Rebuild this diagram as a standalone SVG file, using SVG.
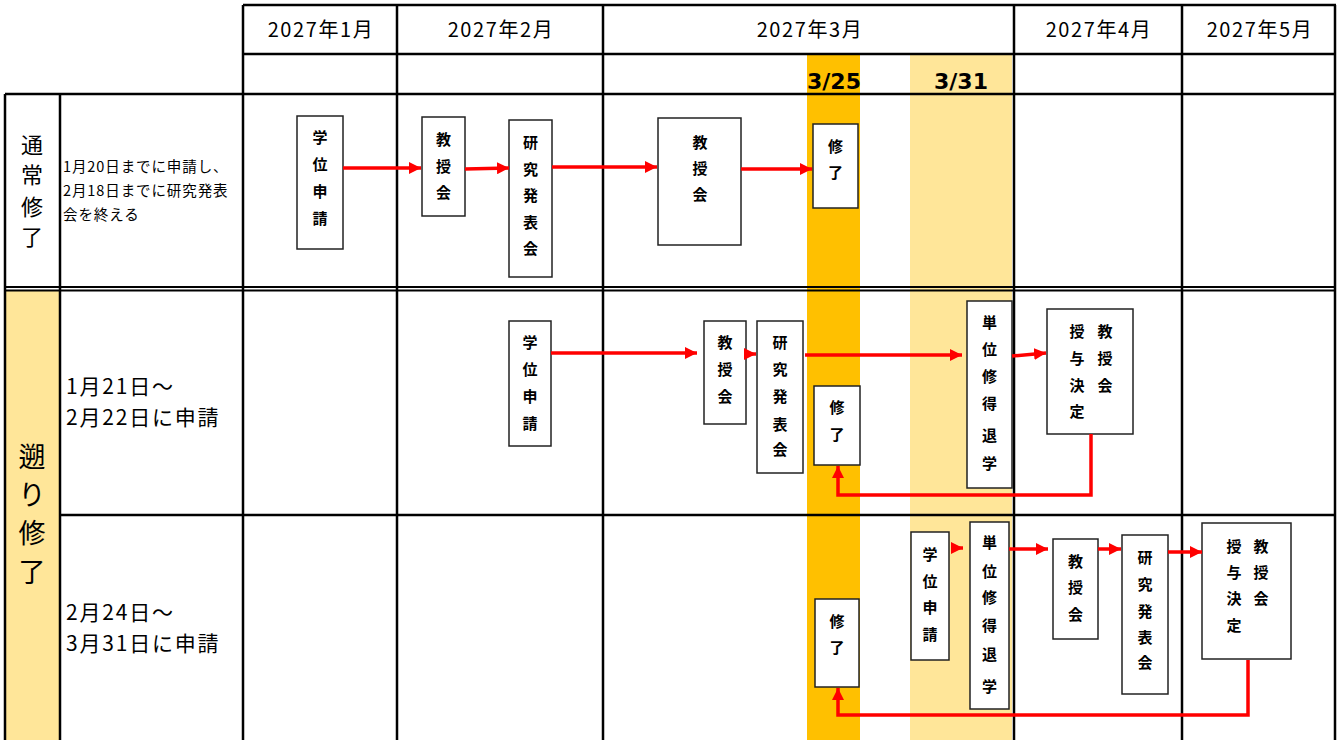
<svg xmlns="http://www.w3.org/2000/svg" width="1341" height="740" viewBox="0 0 1341 740">
<style>
.bg{fill:#fff}
.grid{stroke:#000;stroke-width:2.5;fill:none}
.thin{stroke:#000;stroke-width:1.8;fill:none}
.box{fill:#fff;stroke:#222;stroke-width:1.5}
.bt{font-family:"Noto Sans CJK JP","Noto Sans",sans-serif;font-size:15px;font-weight:bold;fill:#000;text-anchor:middle}
.hd{font-family:"Noto Sans CJK JP","Noto Sans",sans-serif;font-size:20px;letter-spacing:1.6px;fill:#000;text-anchor:middle}
.dt{font-family:"Noto Sans CJK JP","Noto Sans",sans-serif;font-size:21px;letter-spacing:1.8px;fill:#000}
.ds{font-family:"Noto Sans CJK JP","Noto Sans",sans-serif;font-size:14.5px;letter-spacing:0.9px;fill:#000}
.lb{font-family:"Noto Sans CJK JP","Noto Sans",sans-serif;fill:#000;text-anchor:middle}
.dd{font-family:"DejaVu Sans",sans-serif;font-size:22px;font-weight:bold;fill:#000;text-anchor:middle}
.arr{stroke:#ff0000;stroke-width:3.5;fill:none;marker-end:url(#ah)}
</style>
<defs>
<marker id="ah" markerUnits="userSpaceOnUse" markerWidth="12" markerHeight="12" refX="12" refY="6" orient="auto">
<path d="M0,0 L12,6 L0,12 z" fill="#ff0000"/>
</marker>
</defs>
<rect class="bg" x="0" y="0" width="1341" height="740"/>
<g id="bands">
<rect x="807" y="55" width="53" height="685" fill="#FFC000"/>
<rect x="910" y="55" width="102" height="685" fill="#FFE699"/>
<rect x="5" y="290" width="55" height="450" fill="#FFE699"/>
</g>
<g id="grid">
<path class="grid" d="M243,5 H1336 M243,54 H1336 M5,94 H1336 M60,515 H1336"/>
<path class="thin" d="M5,287 H1336 M5,290.5 H1336"/>
<path class="grid" d="M5,94 V740 M60,94 V740 M243,5 V740 M397,5 V740 M603,5 V740 M1014,5 V740 M1182,5 V740 M1335,5 V740"/>
</g>
<g id="headers">
<text class="hd" x="321" y="37">2027年1月</text>
<text class="hd" x="501" y="37">2027年2月</text>
<text class="hd" x="810" y="37">2027年3月</text>
<text class="hd" x="1099" y="37">2027年4月</text>
<text class="hd" x="1260" y="37">2027年5月</text>
<text class="dd" x="834" y="89">3/25</text>
<text class="dd" x="961" y="89">3/31</text>
</g>
<g id="labels">
<text class="lb" font-size="22" x="32"><tspan x="32" y="153">通</tspan><tspan x="32" y="183">常</tspan><tspan x="32" y="215">修</tspan><tspan x="32" y="245">了</tspan></text>
<text class="ds" x="63"><tspan x="63" y="172">1月20日までに申請し、</tspan><tspan x="63" y="196">2月18日までに研究発表</tspan><tspan x="63" y="220">会を終える</tspan></text>
<text class="lb" font-size="27" x="32"><tspan x="32" y="467">遡</tspan><tspan x="32" y="505">り</tspan><tspan x="32" y="543">修</tspan><tspan x="32" y="582">了</tspan></text>
<text class="dt"><tspan x="66" y="394">1月21日～</tspan><tspan x="66" y="425">2月22日に申請</tspan></text>
<text class="dt"><tspan x="66" y="620">2月24日～</tspan><tspan x="66" y="651">3月31日に申請</tspan></text>
</g>
<g id="r1-gakui">
<rect class="box" x="297" y="116" width="46" height="133"/>
<text class="bt"><tspan x="320" y="143">学</tspan><tspan x="320" y="170">位</tspan><tspan x="320" y="197">申</tspan><tspan x="320" y="224">請</tspan></text>
</g>
<g id="r1-kyoju1">
<rect class="box" x="422" y="117" width="43" height="99"/>
<text class="bt"><tspan x="443.5" y="145">教</tspan><tspan x="443.5" y="172">授</tspan><tspan x="443.5" y="198">会</tspan></text>
</g>
<g id="r1-kenkyu">
<rect class="box" x="509" y="120" width="43" height="157"/>
<text class="bt"><tspan x="530.5" y="148">研</tspan><tspan x="530.5" y="175">究</tspan><tspan x="530.5" y="201">発</tspan><tspan x="530.5" y="228">表</tspan><tspan x="530.5" y="254">会</tspan></text>
</g>
<g id="r1-kyoju2">
<rect class="box" x="658" y="118" width="83" height="127"/>
<text class="bt"><tspan x="700" y="148">教</tspan><tspan x="700" y="174">授</tspan><tspan x="700" y="200">会</tspan></text>
</g>
<g id="r1-shuryo">
<rect class="box" x="813" y="124" width="45" height="84"/>
<text class="bt"><tspan x="835.5" y="152">修</tspan><tspan x="835.5" y="178">了</tspan></text>
</g>
<g id="r2-gakui">
<rect class="box" x="509" y="321" width="42" height="125"/>
<text class="bt"><tspan x="530" y="348">学</tspan><tspan x="530" y="375">位</tspan><tspan x="530" y="402">申</tspan><tspan x="530" y="429">請</tspan></text>
</g>
<g id="r2-kyoju">
<rect class="box" x="704" y="321" width="42" height="103"/>
<text class="bt"><tspan x="725" y="348">教</tspan><tspan x="725" y="375">授</tspan><tspan x="725" y="402">会</tspan></text>
</g>
<g id="r2-kenkyu">
<rect class="box" x="757" y="321" width="46" height="152"/>
<text class="bt"><tspan x="780" y="348">研</tspan><tspan x="780" y="375">究</tspan><tspan x="780" y="402">発</tspan><tspan x="780" y="430">表</tspan><tspan x="780" y="455">会</tspan></text>
</g>
<g id="r2-shuryo">
<rect class="box" x="814" y="386" width="46" height="79"/>
<text class="bt"><tspan x="837" y="413">修</tspan><tspan x="837" y="440">了</tspan></text>
</g>
<g id="r2-taigaku">
<rect class="box" x="967" y="301" width="45" height="187"/>
<text class="bt"><tspan x="989.5" y="328">単</tspan><tspan x="989.5" y="355">位</tspan><tspan x="989.5" y="382">修</tspan><tspan x="989.5" y="409">得</tspan><tspan x="989.5" y="441">退</tspan><tspan x="989.5" y="469">学</tspan></text>
</g>
<g id="r2-juyo">
<rect class="box" x="1047" y="309" width="86" height="125"/>
<text class="bt"><tspan x="1105" y="337">教</tspan><tspan x="1105" y="364">授</tspan><tspan x="1105" y="391">会</tspan></text>
<text class="bt"><tspan x="1077" y="337">授</tspan><tspan x="1077" y="364">与</tspan><tspan x="1077" y="391">決</tspan><tspan x="1077" y="417">定</tspan></text>
</g>
<g id="r3-shuryo">
<rect class="box" x="815" y="599" width="44" height="88"/>
<text class="bt"><tspan x="837" y="627">修</tspan><tspan x="837" y="653">了</tspan></text>
</g>
<g id="r3-gakui">
<rect class="box" x="911" y="532" width="38" height="128"/>
<text class="bt"><tspan x="930" y="560">学</tspan><tspan x="930" y="587">位</tspan><tspan x="930" y="613">申</tspan><tspan x="930" y="640">請</tspan></text>
</g>
<g id="r3-taigaku">
<rect class="box" x="970" y="522" width="39" height="187"/>
<text class="bt"><tspan x="989.5" y="548">単</tspan><tspan x="989.5" y="577">位</tspan><tspan x="989.5" y="603">修</tspan><tspan x="989.5" y="631">得</tspan><tspan x="989.5" y="660">退</tspan><tspan x="989.5" y="692">学</tspan></text>
</g>
<g id="r3-kyoju">
<rect class="box" x="1053" y="539" width="45" height="100"/>
<text class="bt"><tspan x="1075.5" y="567">教</tspan><tspan x="1075.5" y="593">授</tspan><tspan x="1075.5" y="620">会</tspan></text>
</g>
<g id="r3-kenkyu">
<rect class="box" x="1122" y="535" width="46" height="159"/>
<text class="bt"><tspan x="1145" y="563">研</tspan><tspan x="1145" y="590">究</tspan><tspan x="1145" y="617">発</tspan><tspan x="1145" y="643">表</tspan><tspan x="1145" y="668">会</tspan></text>
</g>
<g id="r3-juyo">
<rect class="box" x="1202" y="523" width="89" height="136"/>
<text class="bt"><tspan x="1261" y="552">教</tspan><tspan x="1261" y="578">授</tspan><tspan x="1261" y="604">会</tspan></text>
<text class="bt"><tspan x="1234" y="552">授</tspan><tspan x="1234" y="578">与</tspan><tspan x="1234" y="604">決</tspan><tspan x="1234" y="631">定</tspan></text>
</g>
<g id="connectors">
<path class="arr" d="M343,168 H421"/>
<path class="arr" d="M465,169 L509,168"/>
<path class="arr" d="M552,167 H657"/>
<path class="arr" d="M741,169 H812"/>
<path class="arr" d="M551,353 H697"/>
<path class="arr" d="M745,354 H756"/>
<path class="arr" d="M805,355 H962"/>
<path class="arr" d="M1012,356 L1046,353"/>
<path class="arr" d="M1091,434 V495 H838 V466"/>
<path class="arr" d="M951,548 H963"/>
<path class="arr" d="M1009,549 H1048"/>
<path class="arr" d="M1098,549 H1121"/>
<path class="arr" d="M1168,552 H1202"/>
<path class="arr" d="M1248,660 V715 H838 V688"/>
</g>
</svg>
